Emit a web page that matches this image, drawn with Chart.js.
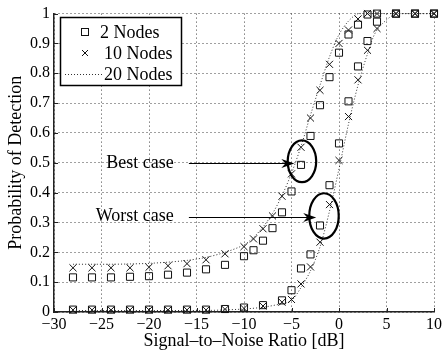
<!DOCTYPE html>
<html>
<head>
<meta charset="utf-8">
<script src="https://cdn.jsdelivr.net/npm/chart.js@4"></script>
<style>
  html, body { margin: 0; padding: 0; background: #fff; }
  #wrap { width: 445px; height: 350px; }
</style>
</head>
<body>
<div id="wrap"><canvas id="c" width="445" height="350"></canvas></div>
<script>
// SNR grid (dB) for the best-case and worst-case curves
const snrBest = [-28,-26,-24,-22,-20,-18,-16,-14,-12,-10,-9,-8,-7,-6,-5,-4,-3,-2,-1,0,1,2,3,4,6,8,10];
const snrWorst = [-28,-26,-24,-22,-20,-18,-16,-14,-12,-10,-8,-6,-5,-4,-3,-2,-1,0,1,2,3,4,6,8,10];

// probability of detection, best case
const best2 = [0.116,0.116,0.116,0.118,0.12,0.125,0.132,0.143,0.158,0.187,0.207,0.239,0.281,0.334,0.404,0.493,0.59,0.693,0.787,0.869,0.93,0.963,0.997,1,1,1,1];
const best10 = [0.148,0.148,0.148,0.148,0.15,0.155,0.162,0.175,0.195,0.219,0.245,0.279,0.322,0.388,0.463,0.552,0.65,0.743,0.83,0.9,0.945,0.982,1,1,1,1,1];
const best20 = [0.16,0.16,0.16,0.161,0.163,0.167,0.173,0.183,0.2,0.225,0.25,0.285,0.33,0.39,0.465,0.555,0.66,0.76,0.855,0.93,0.975,1,1,1,1,1,1];

// probability of detection, worst case
const worst2 = [0.008,0.008,0.008,0.008,0.008,0.008,0.008,0.008,0.01,0.015,0.023,0.039,0.073,0.146,0.193,0.29,0.425,0.565,0.706,0.823,0.908,0.973,1,1,1];
const worst10 = [0.007,0.007,0.007,0.007,0.007,0.007,0.007,0.007,0.009,0.012,0.02,0.033,0.042,0.094,0.151,0.234,0.36,0.508,0.655,0.778,0.877,0.95,1,1,1];
const worst20 = [0.005,0.005,0.005,0.005,0.005,0.005,0.005,0.005,0.007,0.01,0.016,0.028,0.038,0.082,0.138,0.218,0.338,0.48,0.63,0.76,0.865,0.945,1,1,1];

const legendLabels = ["2 Nodes", "10 Nodes", "20 Nodes"];
const xTicks = [-30,-25,-20,-15,-10,-5,0,5,10];

// annotations (data coordinates)
const notes = [
  { text: "Best case", tx: -17.4, ty: 0.5, from: [-15.8, 0.5], to: [-4.7, 0.5], cx: -3.9, cy: 0.505, rx: 1.5, ry: 0.07 },
  { text: "Worst case", tx: -17.4, ty: 0.32, from: [-15.8, 0.318], to: [-2.4, 0.318], cx: -1.58, cy: 0.322, rx: 1.55, ry: 0.076 }
];

const FONT = "'Liberation Serif', 'DejaVu Serif', serif";

const pts = (xs, ys) => xs.map((x, i) => ({ x: x, y: ys[i] }));

function markerSet(label, xs, ys, style) {
  return {
    label: label,
    data: pts(xs, ys),
    showLine: false,
    pointStyle: style,
    pointRadius: 5,
    pointBorderWidth: 1,
    pointBorderColor: "#111",
    pointBackgroundColor: "rgba(0,0,0,0)",
    borderColor: "#111"
  };
}
function dottedSet(label, xs, ys) {
  return {
    label: label,
    data: pts(xs, ys),
    showLine: true,
    pointRadius: 0,
    borderColor: "#333",
    borderWidth: 1,
    borderDash: [1, 2],
    tension: 0.3,
    fill: false
  };
}

// inward tick marks + annotations + legend
const extras = {
  id: "extras",
  afterDatasetsDraw(chart) {
    const ctx = chart.ctx;
    const xs = chart.scales.x, ys = chart.scales.y;
    const area = chart.chartArea;
    ctx.save();

    // tick marks inward
    ctx.strokeStyle = "#222";
    ctx.lineWidth = 1;
    ctx.setLineDash([]);
    xs.ticks.forEach(t => {
      const px = Math.round(xs.getPixelForValue(t.value)) + 0.5;
      ctx.beginPath(); ctx.moveTo(px, area.bottom); ctx.lineTo(px, area.bottom - 4); ctx.stroke();
    });
    ys.ticks.forEach(t => {
      const py = Math.round(ys.getPixelForValue(t.value)) + 0.5;
      ctx.beginPath(); ctx.moveTo(area.left, py); ctx.lineTo(area.left + 4, py); ctx.stroke();
    });

    // annotations
    notes.forEach(n => {
      ctx.fillStyle = "#000";
      ctx.font = "18px " + FONT;
      ctx.textAlign = "right";
      ctx.textBaseline = "middle";
      ctx.fillText(n.text, xs.getPixelForValue(n.tx), ys.getPixelForValue(n.ty));

      const x1 = xs.getPixelForValue(n.from[0]), y1 = Math.round(ys.getPixelForValue(n.from[1])) + 0.5;
      const x2 = xs.getPixelForValue(n.to[0]);
      ctx.strokeStyle = "#000";
      ctx.lineWidth = 1;
      ctx.beginPath(); ctx.moveTo(x1, y1); ctx.lineTo(x2 - 6, y1); ctx.stroke();
      ctx.beginPath();
      ctx.moveTo(x2, y1);
      ctx.lineTo(x2 - 13, y1 - 4.5);
      ctx.lineTo(x2 - 9, y1);
      ctx.lineTo(x2 - 13, y1 + 4.5);
      ctx.closePath();
      ctx.fill();

      const cx = xs.getPixelForValue(n.cx), cy = ys.getPixelForValue(n.cy);
      const rx = Math.abs(xs.getPixelForValue(n.cx + n.rx) - cx);
      const ry = Math.abs(ys.getPixelForValue(n.cy + n.ry) - cy);
      ctx.lineWidth = 2.2;
      ctx.beginPath(); ctx.ellipse(cx, cy, rx, ry, 0, 0, Math.PI * 2); ctx.stroke();
    });

    // legend box
    const bx = 60.5, by = 17.5, bw = 121, bh = 68;
    ctx.fillStyle = "#fff";
    ctx.fillRect(bx, by, bw, bh);
    ctx.strokeStyle = "#000";
    ctx.lineWidth = 1.5;
    ctx.strokeRect(bx, by, bw, bh);
    const rowY = [32, 53, 74];
    ctx.font = "18px " + FONT;
    ctx.textAlign = "left";
    ctx.textBaseline = "middle";
    ctx.fillStyle = "#000";
    legendLabels.forEach((lab, i) => ctx.fillText(lab, i === 0 ? 100 : 104, rowY[i] + 1));
    ctx.lineWidth = 1;
    ctx.strokeStyle = "#111";
    ctx.strokeRect(81.5, rowY[0] - 3.5, 7, 7);
    ctx.beginPath();
    ctx.moveTo(82, rowY[1] - 3); ctx.lineTo(88, rowY[1] + 3);
    ctx.moveTo(88, rowY[1] - 3); ctx.lineTo(82, rowY[1] + 3);
    ctx.stroke();
    ctx.strokeStyle = "#333";
    ctx.setLineDash([1, 2]);
    ctx.beginPath(); ctx.moveTo(65, rowY[2] + 0.5); ctx.lineTo(104, rowY[2] + 0.5); ctx.stroke();

    ctx.restore();
  }
};

new Chart(document.getElementById("c"), {
  type: "scatter",
  data: {
    datasets: [
      dottedSet("20 Nodes best", snrBest, best20),
      dottedSet("20 Nodes worst", snrWorst, worst20),
      markerSet("2 Nodes best", snrBest, best2, "rect"),
      markerSet("10 Nodes best", snrBest, best10, "crossRot"),
      markerSet("2 Nodes worst", snrWorst, worst2, "rect"),
      markerSet("10 Nodes worst", snrWorst, worst10, "crossRot")
    ]
  },
  options: {
    responsive: false,
    animation: false,
    clip: false,
    layout: { padding: { top: 12, right: 10, left: 0, bottom: 0 } },
    plugins: { legend: { display: false }, tooltip: { enabled: false } },
    scales: {
      x: {
        type: "linear",
        min: -30, max: 10,
        afterBuildTicks: s => { s.ticks = xTicks.map(v => ({ value: v })); },
        afterFit: s => { s.height = 38; },
        ticks: {
          padding: 3,
          color: "#000",
          font: { family: FONT, size: 16 },
          maxRotation: 0,
          callback: v => (v < 0 ? "\u2212" + Math.abs(v) : String(v))
        },
        grid: { color: "rgba(0,0,0,0.75)", lineWidth: 1, drawTicks: false },
        border: { display: true, color: "#222", width: 1.5, dash: [1, 3] },
        title: {
          display: true,
          text: "Signal\u2013to\u2013Noise Ratio [dB]",
          color: "#000",
          font: { family: FONT, size: 18, lineHeight: 1 },
          padding: { top: 0, bottom: 0 }
        }
      },
      y: {
        min: 0, max: 1,
        afterFit: s => { s.width = 54; },
        ticks: {
          stepSize: 0.1,
          padding: 4,
          color: "#000",
          font: { family: FONT, size: 16 },
          callback: v => String(Number(v.toFixed(1)))
        },
        grid: { color: "rgba(0,0,0,0.75)", lineWidth: 1, drawTicks: false },
        border: { display: true, color: "#222", width: 1.5, dash: [1, 3] },
        title: {
          display: true,
          text: "Probability of Detection",
          color: "#000",
          font: { family: FONT, size: 18, lineHeight: 1 },
          padding: { top: 7, bottom: 0 }
        }
      }
    }
  },
  plugins: [extras]
});
</script>
</body>
</html>
